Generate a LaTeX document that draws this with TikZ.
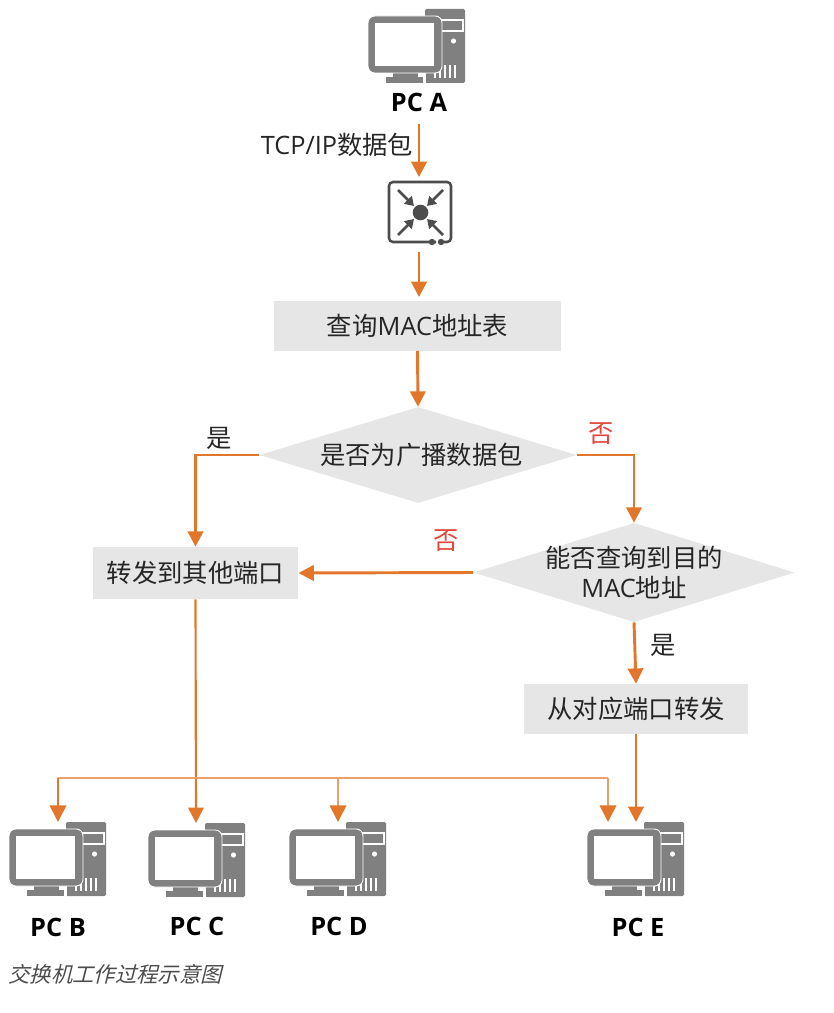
\documentclass[tikz,border=0pt]{standalone}
\usepackage{fontspec}
\setmainfont{Open Sans}
\newfontfamily\cjk{Noto Sans CJK SC}
\newfontfamily\cjkslant[AutoFakeSlant=0.25]{Noto Sans CJK SC}
\usetikzlibrary{arrows.meta,shapes.geometric}
\definecolor{flowline}{HTML}{E2762B}
\definecolor{thinline}{HTML}{EBA06C}
\definecolor{boxgray}{HTML}{E6E6E6}
\definecolor{icongray}{HTML}{808080}
\definecolor{switchgray}{HTML}{4D4D4D}
\definecolor{noteline}{HTML}{E2483D}
\tikzset{
  labeltext/.style={font=\fontsize{19}{22}\selectfont,text=black!85,inner sep=0pt},
  pclabel/.style={font=\fontsize{19}{22}\selectfont\bfseries,text=black,inner sep=0pt},
  graybox/.style={fill=boxgray,labeltext},
  graydiamond/.style={diamond,fill=boxgray,labeltext,align=center,aspect=3.2},
  flow/.style={draw=flowline,line width=2.2pt,-{Triangle[width=11.5pt,length=11.5pt]}},
  thinflow/.style={draw=thinline,line width=1.2pt},
  flowtip/.style={draw=flowline,line width=1.3pt,-{Triangle[width=12.5pt,length=12.5pt]}},
  thintip/.style={thinflow,-{Triangle[width=12.5pt,length=12.5pt,color=flowline]}},
  pcicon/.pic={
    \fill[icongray,rounded corners=1pt] (57,0) rectangle (97,74);
    \draw[white,line width=0.8pt] (72,11) rectangle (95,22);
    \fill[white] (85.5,32) circle (2.6);
    \foreach \vx in {67,72,77,82,87}
      \draw[white,line width=0.9pt] (\vx,56) -- (\vx,69);
    \fill[icongray] (18,68) rectangle (55,74);
    \fill[white] (55,64) rectangle (58,74);
    \fill[icongray] (25,62) rectangle (50,69);
    \filldraw[icongray,draw=white,line width=0.7pt,rounded corners=5pt] (0,7) rectangle (74,64);
    \fill[white] (7,14) rectangle (66,57);
  },
  pressarrow/.style={draw=switchgray,line width=1.9pt,-{Triangle[width=8pt,length=6.5pt]}},
}
\begin{document}
\begin{tikzpicture}[x=0.75pt,y=-0.75pt]
\useasboundingbox (0,0) rectangle (833,1013);

% PC icons
\pic at (368,9) {pcicon};
\pic at (9,822) {pcicon};
\pic at (148,823) {pcicon};
\pic at (289,822) {pcicon};
\pic at (587,822) {pcicon};
\node[pclabel] (pcA) at (419,102) {PC A};
\node[pclabel] (pcB) at (58,927) {PC B};
\node[pclabel] (pcC) at (197,926) {PC C};
\node[pclabel] (pcD) at (339,926) {PC D};
\node[pclabel] (pcE) at (638,927) {PC E};

% Switch
\node (switch) at (420,212) [minimum width=48pt,minimum height=46pt,inner sep=0pt] {};
\draw[switchgray,line width=1.9pt,rounded corners=3pt] (436,242) -- (389,242) -- (389,182) -- (451,182) -- (451,242) -- (442,242);
\fill[switchgray] (432,242) circle (3.2) (441,242) circle (3.2) (420.5,212.5) circle (7.8);
\draw[pressarrow] (398,190) -- (414,206);
\draw[pressarrow] (443,190) -- (427,206);
\draw[pressarrow] (398,235) -- (414,219);
\draw[pressarrow] (443,235) -- (427,219);

% Flow boxes
\node[graybox,minimum width=215pt,minimum height=37pt] (lookup) at (417.5,326) {{\cjk 查询}MAC{\cjk 地址表}};
\node[graydiamond,minimum width=238pt,minimum height=72pt] (isbroadcast) at (418,455) {\hspace*{5pt}\cjk 是否为广播数据包};
\node[graydiamond,inner sep=-2.4pt,minimum width=241pt,minimum height=72pt] (isfound) at (634,572.5) {\fontsize{19}{21}\selectfont{\cjk 能否查询到目的}\\MAC{\cjk 地址}};
\node[graybox,minimum width=154pt,minimum height=39pt] (flood) at (195.5,573) {\cjk 转发到其他端口};
\node[graybox,minimum width=168pt,minimum height=37.5pt] (direct) at (636,709) {\cjk 从对应端口转发};

% Labels
\node[labeltext] (packet) at (337,145) {TCP/IP{\cjk 数据包}};
\node[labeltext] (yesA) at (219,438) {\cjk 是};
\node[labeltext,text=noteline] (noA) at (601,434) {\cjk 否};
\node[labeltext,text=noteline] (noB) at (446,541) {\cjk 否};
\node[labeltext] (yesB) at (663,645) {\cjk 是};
\node[font=\fontsize{16}{19}\selectfont\itshape,text=black!70,inner sep=0pt] (caption) at (115,974) {\cjkslant 交换机工作过程示意图};

% Connectors
\coordinate (treeB) at (58,778);
\coordinate (treeD) at (338,778);
\coordinate (treeE) at (608,778);
\coordinate (inB) at (58,822);
\coordinate (inC) at (196,823);
\coordinate (inD) at (338,822);
\coordinate (inE) at (608,822);
\coordinate (inDirect) at (636,822);
\draw[flow,shorten <=9pt,shorten >=3pt] (pcA.south) -- (pcA.south |- switch.north);
\draw[flow,shorten <=7pt,shorten >=3pt] (pcA.south |- switch.south) -- (pcA.south |- lookup.north);
\draw[flow] (lookup.south) -- (isbroadcast.north);
\draw[flow] (isbroadcast.west) -| (flood.north);
\draw[flow] (isbroadcast.east) -| (isfound.north);
\draw[flow] (isfound.west) -- (flood.east);
\draw[flow] (isfound.south) -- (direct.north);
\draw[flow] (direct.south) -- (inDirect);
\draw[flow,line width=1.6pt] (flood.south) -- (inC);
\draw[thinflow] (treeB) -- (treeE);
\draw[flowtip] (treeB) -- (inB);
\draw[thintip] (treeD) -- (inD);
\draw[thintip] (treeE) -- (inE);
\end{tikzpicture}
\end{document}
